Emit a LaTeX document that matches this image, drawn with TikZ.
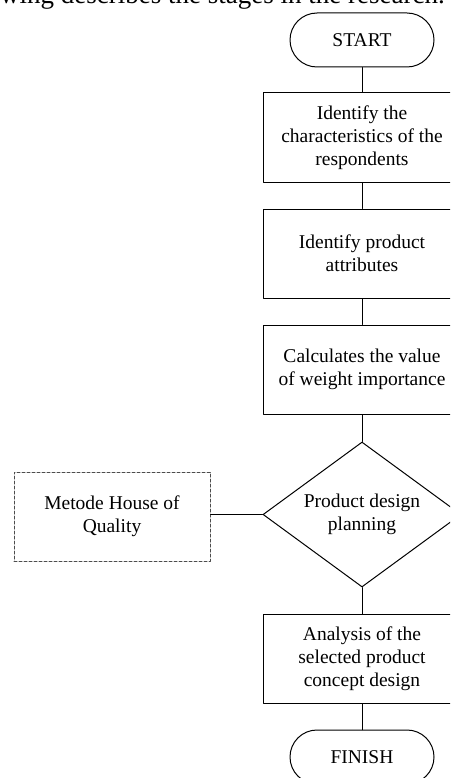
\documentclass[tikz,border=0pt]{standalone}
\usepackage{fontspec}
\setmainfont{Liberation Serif}
\usetikzlibrary{shapes.geometric}

\begin{document}
\begin{tikzpicture}[x=1pt,y=-1pt,line cap=round,line join=round,
  font=\fontsize{19.5}{23}\selectfont,
  proc/.style={draw,line width=1pt,minimum width=198pt,minimum height=89pt,align=center,inner sep=0pt},
  term/.style={draw,line width=1pt,rounded corners=27pt,minimum width=144pt,minimum height=54pt},
  decis/.style={draw,diamond,line width=1pt,aspect=1.37,minimum width=198pt,minimum height=145pt,align=center,inner sep=0pt},
  ext/.style={draw=black!70,dash pattern=on 3pt off 2pt,line width=1pt,minimum width=196pt,minimum height=89pt,align=center},
  link/.style={line width=1pt}]

  % ---- page frame ----
  \clip (0,0) rectangle (450,778);

  % ---- running text above the chart ----
  \node[anchor=base west,font=\fontsize{27}{30}\selectfont,inner sep=0pt] (intro) at (0,4)
    {wing describes the stages in the research.};

  % ---- main column ----
  \node[term] (start) at (362,40) {START};
  \node[proc] (idresp) at (362,137.5) {Identify the\\characteristics of the\\respondents};
  \node[proc] (idattr) at (362,253.5) {Identify product\\attributes};
  \node[proc] (weight) at (362,369.5) {Calculates the value\\of weight importance};
  \node[decis] (plan) at (362,514.5) {Product design\\planning};
  \node[proc] (analysis) at (362,659) {Analysis of the\\selected product\\concept design};
  \node[term] (finish) at (362,757) {FINISH};

  % ---- method (left, dashed) ----
  \node[ext] (hoq) at (112,516.5) {Metode House of\\Quality};

  % ---- connectors ----
  \draw[link] (start) -- (idresp);
  \draw[link] (idresp) -- (idattr);
  \draw[link] (idattr) -- (weight);
  \draw[link] (weight) -- (plan);
  \draw[link] (plan) -- (analysis);
  \draw[link] (analysis) -- (finish);
  \draw[link] (plan.west) -- (plan.west -| hoq.east);
\end{tikzpicture}
\end{document}
